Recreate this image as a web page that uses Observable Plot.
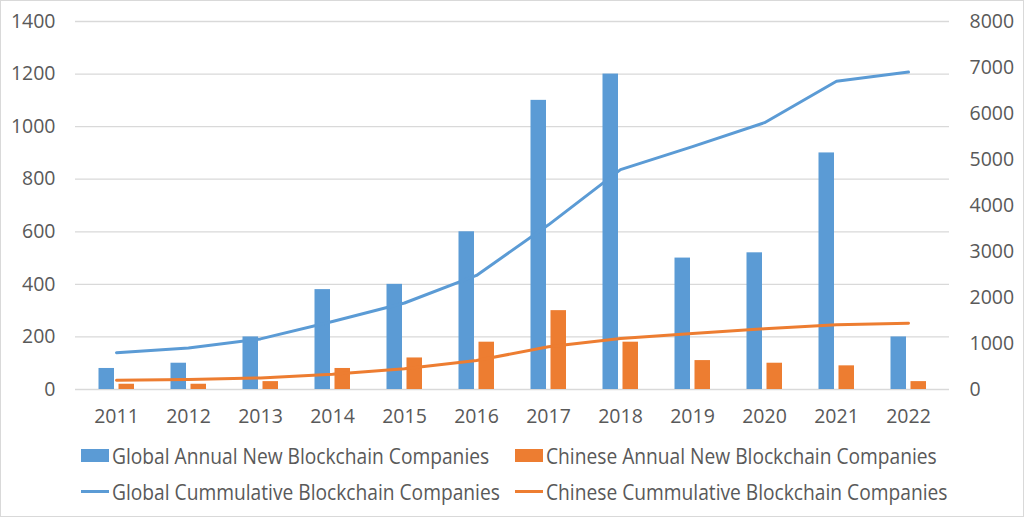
<!DOCTYPE html>
<html>
<head>
<meta charset="utf-8">
<script src="https://cdn.jsdelivr.net/npm/d3@7"></script>
<script src="https://cdn.jsdelivr.net/npm/@observablehq/plot@0.6"></script>
<style>
  html, body { margin: 0; padding: 0; background: #fff; }
  #frame { width: 1024px; height: 517px; box-sizing: border-box; border: 1px solid #d9d9d9; position: relative; overflow: hidden; font-family: "Open Sans", sans-serif; }
  #chart svg { display: block; }
  .legend { position: absolute; left: 0; top: 0; width: 100%; height: 100%; pointer-events: none; }
  .item { position: absolute; display: flex; align-items: center; font-size: 19.2px; color: #595959; white-space: nowrap; }
  .item .t { display: inline-block; transform: scaleY(1.12); }
  .sw { display: inline-block; width: 28px; margin-right: 3px; }
</style>
</head>
<body>
<div id="frame">
  <div id="chart"></div>
  <div class="legend" id="legend"></div>
</div>
<script>
const years = ["2011","2012","2013","2014","2015","2016","2017","2018","2019","2020","2021","2022"];
const globalAnnual = [80, 100, 200, 380, 400, 600, 1100, 1200, 500, 520, 900, 200];
const chineseAnnual = [20, 20, 30, 80, 120, 180, 300, 180, 110, 100, 90, 30];
const globalCumulative = [800, 900, 1100, 1480, 1880, 2480, 3580, 4780, 5280, 5800, 6700, 6900];
const chineseCumulative = [200, 220, 250, 330, 450, 630, 930, 1110, 1220, 1320, 1410, 1440];
const leftTicks = [0, 200, 400, 600, 800, 1000, 1200, 1400];
const rightTicks = [0, 1000, 2000, 3000, 4000, 5000, 6000, 7000, 8000];
const seriesNames = [
  "Global Annual New Blockchain Companies",
  "Chinese Annual New Blockchain Companies",
  "Global Cummulative Blockchain Companies",
  "Chinese Cummulative Blockchain Companies"
];

const blue = "#5b9bd5", orange = "#ed7d31", text = "#595959", grid = "#d9d9d9";
const k = 1400 / 8000; // right axis -> left axis

const rows = years.map((y, i) => ({
  year: y, ga: globalAnnual[i], ca: chineseAnnual[i],
  gc: globalCumulative[i] * k, cc: chineseCumulative[i] * k
}));

const chart = Plot.plot({
  width: 1022,
  height: 430,
  marginLeft: 74,
  marginRight: 74,
  marginTop: 20,
  marginBottom: 42,
  style: { fontFamily: "Open Sans, sans-serif", fontSize: "19px", color: text, background: "white" },
  x: { domain: years, padding: 0, label: null },
  y: { domain: [0, 1400], label: null },
  marks: [
    Plot.gridY(leftTicks, { stroke: grid, strokeOpacity: 1, strokeWidth: 1.3 }),
    Plot.axisY(leftTicks, { anchor: "left", tickSize: 0, tickPadding: 20, label: null, fill: text, fontSize: 19.5, tickFormat: d => String(d) }),
    Plot.axisY(rightTicks.map(v => v * k), { anchor: "right", tickSize: 0, tickPadding: 20, label: null, fill: text, fontSize: 19.5, tickFormat: d => String(Math.round(d / k)) }),
    Plot.axisX({ tickSize: 0, tickPadding: 20, label: null, fill: text, fontSize: 19.5 }),
    Plot.barY(rows, { x: "year", y: "ga", fill: blue, insetLeft: 18.5, insetRight: 38 }),
    Plot.barY(rows, { x: "year", y: "ca", fill: orange, insetLeft: 38.5, insetRight: 18 }),
    Plot.line(rows, { x: "year", y: "gc", stroke: blue, strokeWidth: 3 }),
    Plot.line(rows, { x: "year", y: "cc", stroke: orange, strokeWidth: 3 })
  ]
});
document.getElementById("chart").appendChild(chart);

const legend = document.getElementById("legend");
const items = [
  { name: seriesNames[0], color: blue, type: "rect", left: 80, top: 454 },
  { name: seriesNames[1], color: orange, type: "rect", left: 514, top: 454 },
  { name: seriesNames[2], color: blue, type: "line", left: 80, top: 490 },
  { name: seriesNames[3], color: orange, type: "line", left: 514, top: 490 }
];
for (const it of items) {
  const d = document.createElement("div");
  d.className = "item";
  d.style.left = it.left + "px";
  d.style.top = (it.top - 13) + "px";
  d.style.height = "26px";
  const sw = document.createElement("span");
  sw.className = "sw";
  sw.style.background = it.color;
  sw.style.height = it.type === "rect" ? "13px" : "3px";
  d.appendChild(sw);
  const t = document.createElement("span");
  t.className = "t";
  t.textContent = it.name;
  d.appendChild(t);
  legend.appendChild(d);
}
</script>
</body>
</html>
